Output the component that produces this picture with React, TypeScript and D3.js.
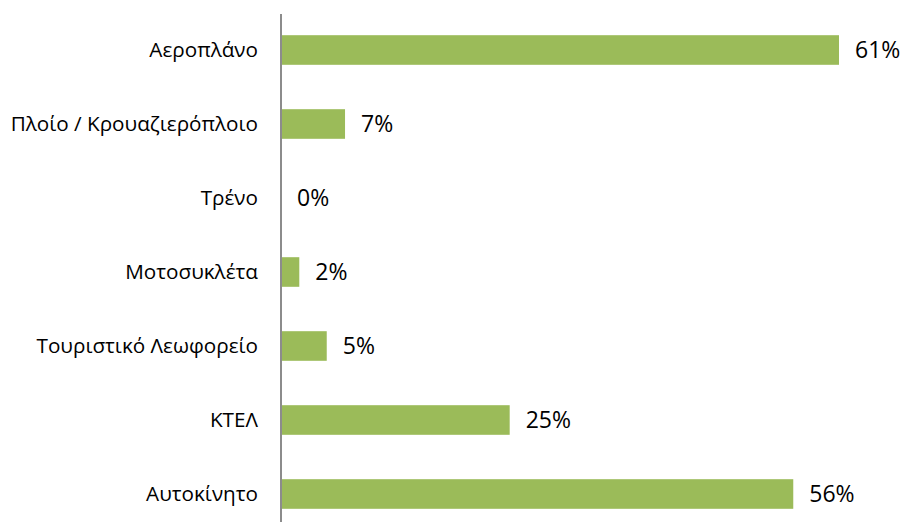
import * as d3 from "d3";
import { useEffect, useRef } from "react";

const categories = [
  "Αεροπλάνο",
  "Πλοίο / Κρουαζιερόπλοιο",
  "Τρένο",
  "Μοτοσυκλέτα",
  "Τουριστικό Λεωφορείο",
  "ΚΤΕΛ",
  "Αυτοκίνητο",
];
const values = [0.61, 0.07, 0.0, 0.02, 0.05, 0.25, 0.56];

const App = () => {
  const ref = useRef<SVGSVGElement | null>(null);

  useEffect(() => {
    const svg = d3.select(ref.current);
    svg.selectAll("*").remove();

    const height = 522;
    const font = "'Open Sans', sans-serif";

    const x = d3.scaleLinear().domain([0, 0.61]).range([281, 839]);
    const y = d3
      .scaleBand()
      .domain(categories)
      .range([13, 531])
      .paddingInner(0.6)
      .paddingOuter(0.3);

    const data = categories.map((c, i) => ({ c, v: values[i] }));

    // бары
    svg
      .selectAll(".bar")
      .data(data)
      .enter()
      .append("rect")
      .attr("class", "bar")
      .attr("x", x(0))
      .attr("y", (d) => y(d.c)!)
      .attr("width", (d) => x(d.v) - x(0))
      .attr("height", y.bandwidth())
      .attr("fill", "#9BBB59");

    // ось
    svg
      .append("line")
      .attr("x1", x(0))
      .attr("x2", x(0))
      .attr("y1", 14)
      .attr("y2", height)
      .attr("stroke", "#8c8c8c")
      .attr("stroke-width", 2);

    // подписи категорий
    svg
      .selectAll(".cat")
      .data(data)
      .enter()
      .append("text")
      .attr("x", 258)
      .attr("y", (d) => y(d.c)! + y.bandwidth() / 2)
      .attr("dy", "0.35em")
      .attr("text-anchor", "end")
      .attr("font-family", font)
      .attr("font-size", 20.7)
      .attr("fill", "#000")
      .text((d) => d.c);

    // значения
    const fmt = d3.format(".0%");
    svg
      .selectAll(".val")
      .data(data)
      .enter()
      .append("text")
      .attr("x", (d) => x(d.v) + 16)
      .attr("y", (d) => y(d.c)! + y.bandwidth() / 2)
      .attr("dy", "0.35em")
      .attr("font-family", font)
      .attr("font-size", 23)
      .attr("fill", "#000")
      .text((d) => fmt(d.v));
  }, []);

  return (
    <svg
      ref={ref}
      width={904}
      height={522}
      style={{ position: "absolute", left: 0, top: 0 }}
    ></svg>
  );
};

export default App;
